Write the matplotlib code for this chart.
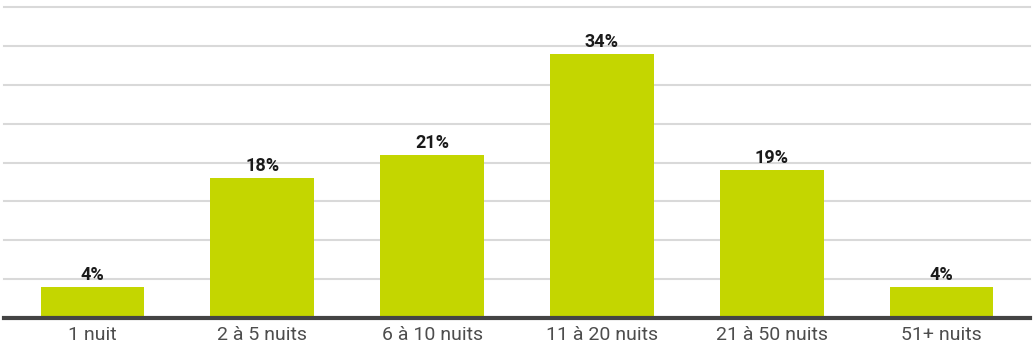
import matplotlib.pyplot as plt

categories = ["1 nuit", "2 à 5 nuits", "6 à 10 nuits", "11 à 20 nuits", "21 à 50 nuits", "51+ nuits"]
values = [4, 18, 21, 34, 19, 4]
labels = ["4%", "18%", "21%", "34%", "19%", "4%"]

plt.rcParams['font.family'] = ['Roboto', 'DejaVu Sans']

fig = plt.figure(figsize=(10.34, 3.48), dpi=100)
ax = fig.add_axes([4 / 1034, 30 / 348, 1026 / 1034, 311 / 348])

x = range(len(categories))
bars = ax.bar(x, values, width=0.61, color="#c4d600", zorder=3)

# value labels above each bar
for bar, txt in zip(bars, labels):
    ax.annotate(txt, (bar.get_x() + bar.get_width() / 2, bar.get_height()),
                xytext=(0, 2), textcoords="offset points",
                ha="center", va="bottom", fontsize=13, fontweight="bold",
                color="#1a1a1a", zorder=4)

ax.set_xlim(-0.52, 5.52)
ax.set_ylim(0, 40)
ax.set_yticks(range(5, 41, 5))
ax.yaxis.grid(True, color="#d9d9d9", linewidth=1.5, zorder=0)
for gl in ax.get_ygridlines():
    gl.set_clip_on(False)
ax.tick_params(axis="y", left=False, labelleft=False)
ax.set_xticks(list(x))
ax.set_xticklabels(categories, fontsize=14, color="#4d4d4d")
ax.tick_params(axis="x", length=0, pad=6)

for side in ["top", "right", "left"]:
    ax.spines[side].set_visible(False)
ax.spines["bottom"].set_color("#444444")
ax.spines["bottom"].set_linewidth(3)
ax.spines["bottom"].set_zorder(5)

fig.savefig("out.png", dpi=100)
